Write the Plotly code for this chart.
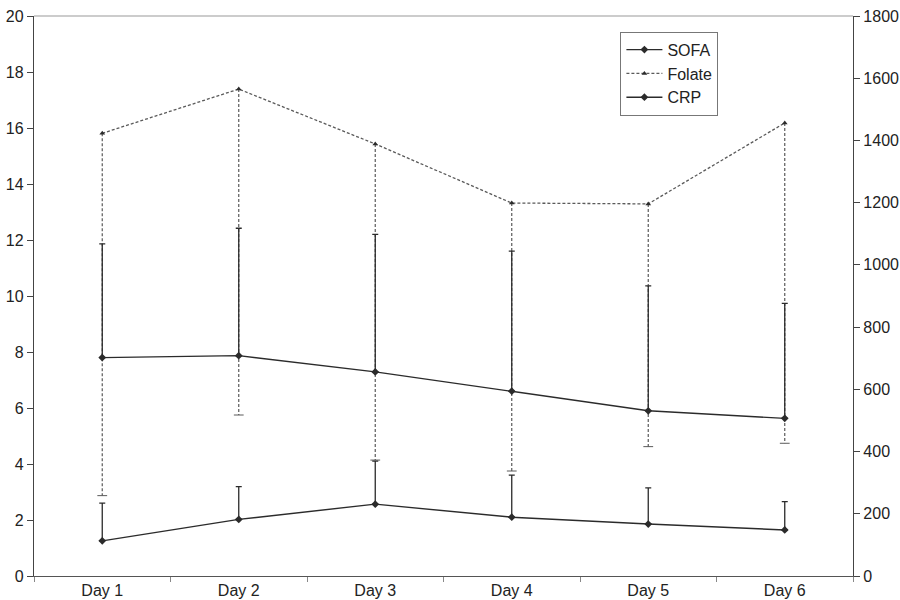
import plotly.graph_objects as go

days = ["Day 1", "Day 2", "Day 3", "Day 4", "Day 5", "Day 6"]

# SOFA score (left axis), mean and upper deviation
sofa = [7.8, 7.87, 7.29, 6.6, 5.9, 5.63]
sofa_err = [4.06, 4.55, 4.91, 5.0, 4.46, 4.11]

# Folate (left axis), mean and lower deviation
folate = [15.81, 17.39, 15.43, 13.32, 13.29, 16.18]
folate_err = [12.94, 11.64, 11.29, 9.57, 8.67, 11.44]

# CRP (right axis), mean and upper deviation
crp = [113, 182, 231, 189, 167, 148]
crp_err = [121, 105, 138, 135, 116, 91]

LINE = "#2b2b2b"
DASH = "#5a5a5a"
FONT = dict(family="Liberation Sans, Arial, sans-serif", size=16, color="#222222")

fig = go.Figure()

# dashed lower whiskers for folate, built from the folate arrays
wx, wy, cx, cy = [], [], [], []
for d, m, e in zip(days, folate, folate_err):
    wx += [d, d, None]
    wy += [m, m - e, None]
    cx.append(d)
    cy.append(m - e)
fig.add_trace(go.Scatter(x=wx, y=wy, mode="lines", showlegend=False, hoverinfo="skip",
                         line=dict(color=DASH, width=1.2, dash="3px,2px")))
fig.add_trace(go.Scatter(x=cx, y=cy, mode="markers", showlegend=False, hoverinfo="skip",
                         marker=dict(symbol="line-ew", size=7, line=dict(color=DASH, width=1))))

fig.add_trace(go.Scatter(
    x=days, y=sofa, name="SOFA", mode="lines+markers",
    line=dict(color=LINE, width=1.4),
    marker=dict(symbol="diamond", size=6, color=LINE),
    error_y=dict(type="data", symmetric=False, array=sofa_err,
                 arrayminus=[0] * len(sofa_err), color=LINE, thickness=1.3, width=3),
))

fig.add_trace(go.Scatter(
    x=days, y=folate, name="Folate", mode="lines+markers",
    line=dict(color=DASH, width=1.3, dash="3px,2px"),
    marker=dict(symbol="triangle-up", size=5, color=LINE),
))

fig.add_trace(go.Scatter(
    x=days, y=crp, name="CRP", mode="lines+markers", yaxis="y2",
    line=dict(color=LINE, width=1.4),
    marker=dict(symbol="diamond", size=6, color=LINE),
    error_y=dict(type="data", symmetric=False, array=crp_err,
                 arrayminus=[0] * len(crp_err), color=LINE, thickness=1.3, width=3),
))

fig.update_layout(
    width=900, height=600,
    margin=dict(l=34, r=47, t=16, b=24),
    paper_bgcolor="white", plot_bgcolor="white",
    font=FONT,
    showlegend=True,
    legend=dict(x=0.716, y=0.972, xanchor="left", yanchor="top",
                bordercolor="#777777", borderwidth=1, bgcolor="white",
                font=dict(size=16), tracegroupgap=0, itemwidth=36),
    xaxis=dict(type="category", categoryorder="array", categoryarray=days,
               range=[-0.5, 5.5], tickson="boundaries", ticks="outside", ticklen=5,
               tickcolor="#888", showline=True, linecolor="#555", linewidth=1.3,
               showgrid=False, zeroline=False, tickfont=FONT, automargin=False),
    yaxis=dict(range=[0, 20], dtick=2, ticks="outside", ticklen=6, tickcolor="#444",
               showline=True, linecolor="#444", linewidth=1.3, showgrid=False,
               zeroline=False, tickfont=FONT, automargin=False),
    yaxis2=dict(range=[0, 1800], dtick=200, overlaying="y", side="right",
                ticks="outside", ticklen=6, tickcolor="#444", showline=True,
                linecolor="#444", linewidth=1.3, showgrid=False, zeroline=False,
                tickfont=FONT, automargin=False),
    shapes=[dict(type="line", xref="paper", yref="paper", x0=0, x1=1, y0=1, y1=1,
                 line=dict(color="#999999", width=1))],
)

fig.write_html("out.html")
